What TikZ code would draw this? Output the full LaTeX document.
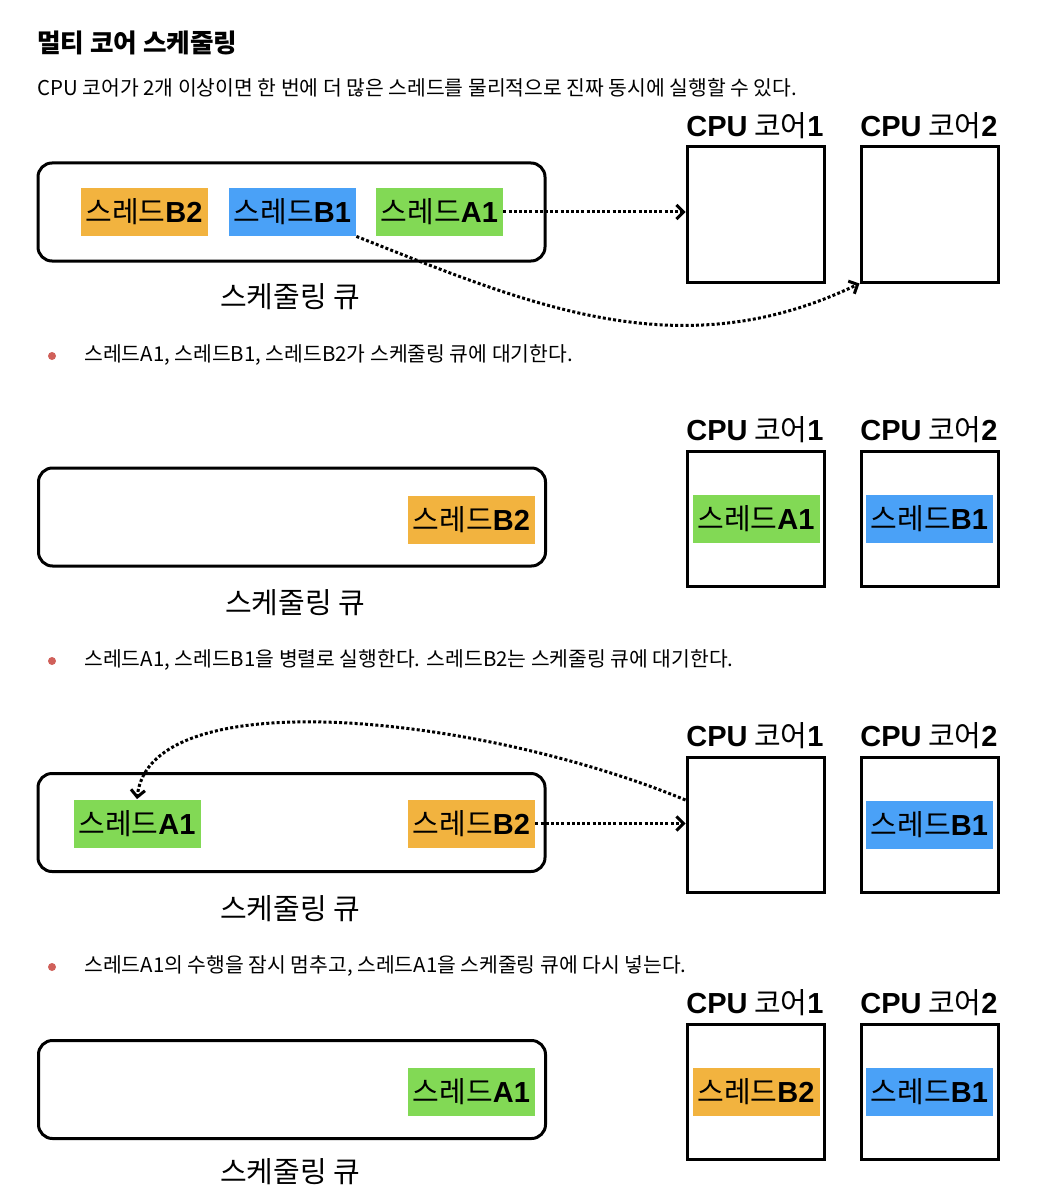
\documentclass[tikz,border=0pt]{standalone}
\usepackage{fontspec}
\setmainfont{Noto Sans CJK KR}
\newfontfamily\helv{Liberation Sans}
\usetikzlibrary{arrows.meta}

\definecolor{thrOrange}{HTML}{F2B33F}
\definecolor{thrBlue}{HTML}{4AA1F7}
\definecolor{thrGreen}{HTML}{82D955}
\definecolor{dotRed}{HTML}{D0605A}

\newcommand{\thr}[1]{스레드{\helv\bfseries #1}}
\newcommand{\cpucore}[1]{{\helv\bfseries CPU} 코어{\helv\bfseries #1}}

\tikzset{
  queue/.style={draw, line width=1.5pt, rounded corners=7pt, minimum width=253.5pt, minimum height=49pt},
  core/.style={draw, line width=1.5pt, minimum width=68.5pt, minimum height=67.5pt},
  thread/.style={inner sep=0pt, minimum width=63.5pt, minimum height=24pt, font=\fontsize{14.5}{16}\selectfont},
  corelabel/.style={font=\fontsize{14.5}{16}\selectfont},
  qlabel/.style={font=\fontsize{14.5}{16}\selectfont},
  note/.style={anchor=west, inner sep=0pt, font=\fontsize{10.2}{12}\selectfont},
  bullet/.style={circle, fill=dotRed, inner sep=0pt, minimum size=4pt},
  move/.style={->, dash pattern=on 1.5pt off 1.1pt, line width=1.5pt},
}

\begin{document}
\begin{tikzpicture}[x=0.5pt, y=-0.5pt, >={Straight Barb[length=3.5pt, width=7pt]}]
    \useasboundingbox (0,0) rectangle (1038,1198);

    \node[anchor=west, inner sep=0pt, font=\bfseries\fontsize{12.8}{15}\selectfont] (title) at (37,43) {멀티 코어 스케줄링};
    \node[note] (intro) at (37,88) {CPU 코어가 2개 이상이면 한 번에 더 많은 스레드를 물리적으로 진짜 동시에 실행할 수 있다.};

    \node[queue] (q1) at (291.5,212) {};
    \node[thread, fill=thrOrange] (b2a) at (144,212) {\thr{B2}};
    \node[thread, fill=thrBlue] (b1a) at (292.5,212) {\thr{B1}};
    \node[thread, fill=thrGreen] (a1a) at (439.5,212) {\thr{A1}};
    \node[qlabel] (ql1) at (290,297) {스케줄링 큐};
    \node[core] (c1a) at (755.5,214.5) {};
    \node[core] (c2a) at (929.5,214.5) {};
    \node[corelabel] (cl1a) at (755,126) {\cpucore{1}};
    \node[corelabel] (cl2a) at (929,126) {\cpucore{2}};
    \draw[move] (a1a.east) -- (c1a.west |- a1a.east);
    \draw[move] (b1a.south east) .. controls (530,305) and (680,370) .. (c2a.south west);
    \node[bullet] (dot1) at (52,356) {};
    \node[note] (n1) at (84,355) {스레드A1, 스레드B1, 스레드B2가 스케줄링 큐에 대기한다.};

    \node[queue] (q2) at (292,517) {};
    \node[thread, fill=thrOrange] (b2b) at (471.5,519.5) {\thr{B2}};
    \node[qlabel] (ql2) at (295,603) {스케줄링 큐};
    \node[core] (c1b) at (755.5,518.5) {};
    \node[core] (c2b) at (929.5,518.5) {};
    \node[corelabel] (cl1b) at (755,430) {\cpucore{1}};
    \node[corelabel] (cl2b) at (929,430) {\cpucore{2}};
    \node[thread, fill=thrGreen] (a1b) at (756,518.5) {\thr{A1}};
    \node[thread, fill=thrBlue] (b1b) at (929.5,518.5) {\thr{B1}};
    \node[bullet] (dot2) at (52,661) {};
    \node[note] (n2) at (84,660) {스레드A1, 스레드B1을 병렬로 실행한다. 스레드B2는 스케줄링 큐에 대기한다.};

    \node[queue] (q3) at (291.5,822.5) {};
    \node[thread, fill=thrGreen] (a1c) at (137,823.5) {\thr{A1}};
    \node[thread, fill=thrOrange] (b2c) at (471.5,823.5) {\thr{B2}};
    \node[qlabel] (ql3) at (290,909) {스케줄링 큐};
    \node[core] (c1c) at (755.5,824.5) {};
    \node[core] (c2c) at (929.5,824.5) {};
    \node[corelabel] (cl1c) at (755,736) {\cpucore{1}};
    \node[corelabel] (cl2c) at (929,736) {\cpucore{2}};
    \node[thread, fill=thrBlue] (b1c) at (929.5,824.5) {\thr{B1}};
    \draw[move] (b2c.east) -- (c1c.west |- b2c.east);
    \draw[move] (c1c.west |- 0,800) .. controls (480,715) and (150,680) .. (a1c.north);
    \node[bullet] (dot3) at (52,967) {};
    \node[note] (n3) at (84,966) {스레드A1의 수행을 잠시 멈추고, 스레드A1을 스케줄링 큐에 다시 넣는다.};

    \node[queue] (q4) at (292,1089.5) {};
    \node[thread, fill=thrGreen] (a1d) at (471.5,1091.5) {\thr{A1}};
    \node[qlabel] (ql4) at (290,1172) {스케줄링 큐};
    \node[core] (c1d) at (755.5,1092) {};
    \node[core] (c2d) at (929.5,1092) {};
    \node[corelabel] (cl1d) at (755,1003) {\cpucore{1}};
    \node[corelabel] (cl2d) at (929,1003) {\cpucore{2}};
    \node[thread, fill=thrOrange] (b2d) at (756,1092) {\thr{B2}};
    \node[thread, fill=thrBlue] (b1d) at (929.5,1092) {\thr{B1}};
\end{tikzpicture}
\end{document}
